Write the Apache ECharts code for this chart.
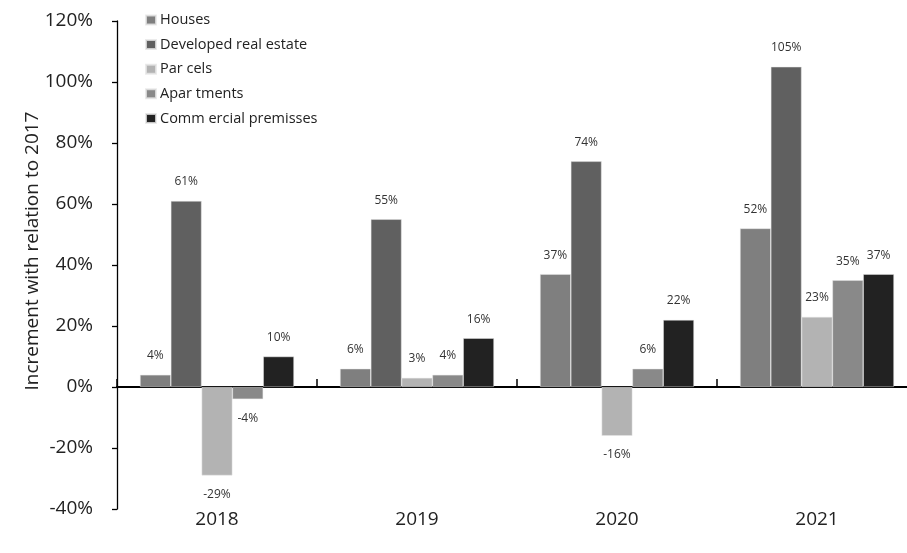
<!DOCTYPE html>
<html>
<head>
<meta charset="utf-8">
<script src="https://cdn.jsdelivr.net/npm/echarts@6/dist/echarts.min.js"></script>
<style>
  html, body { margin: 0; padding: 0; background: #fff; }
  #chart { width: 907px; height: 553px; }
</style>
</head>
<body>
<div id="chart"></div>
<script>
// Categories and series (percent increase relative to 2017)
const years = ['2018', '2019', '2020', '2021'];
const houses = [4, 6, 37, 52];
const developed = [61, 55, 74, 105];
const parcels = [-29, 3, -16, 23];
const apartments = [-4, 4, 6, 35];
const commercial = [10, 16, 22, 37];
const yTicks = [-40, -20, 0, 20, 40, 60, 80, 100, 120];

const seriesDefs = [
  { name: 'Houses', data: houses, color: '#7f7f7f' },
  { name: 'Developed real estate', data: developed, color: '#606060' },
  { name: 'Par cels', data: parcels, color: '#b3b3b3' },
  { name: 'Apar tments', data: apartments, color: '#898989' },
  { name: 'Comm ercial premisses', data: commercial, color: '#222222' }
];

const font = '"Open Sans", "Noto Sans", sans-serif';

const chart = echarts.init(document.getElementById('chart'), null, { renderer: 'canvas' });

chart.setOption({
  animation: false,
  backgroundColor: '#fff',
  textStyle: { fontFamily: font },
  grid: { left: 117, right: -10, top: 21, bottom: 44, containLabel: false, outerBoundsMode: 'none' },
  legend: {
    orient: 'vertical',
    left: 145,
    top: 11,
    padding: 0,
    itemWidth: 10,
    itemHeight: 9,
    itemGap: 6.6,
    icon: 'rect',
    textStyle: { fontSize: 14.5, color: '#222', fontFamily: font, lineHeight: 18, padding: [0, 0, 0, -1] },
    data: seriesDefs.map(s => s.name)
  },
  xAxis: {
    type: 'category',
    data: years,
    boundaryGap: true,
    axisLine: { onZero: true, lineStyle: { color: '#000', width: 2 } },
    axisTick: { show: true, inside: true, length: 8, alignWithLabel: false, lineStyle: { color: '#000', width: 1.5 } },
    axisLabel: { margin: 1, fontSize: 19, color: '#222', fontFamily: font },
    splitLine: { show: false }
  },
  yAxis: {
    type: 'value',
    min: -40,
    max: 120,
    interval: 20,
    axisLine: { show: true, lineStyle: { color: '#000', width: 1.3 } },
    axisTick: { show: true, length: 5, lineStyle: { color: '#000', width: 1.3 } },
    axisLabel: {
      margin: 24,
      fontSize: 19,
      color: '#222',
      fontFamily: font,
      formatter: v => (yTicks.includes(v) ? v + '%' : '')
    },
    splitLine: { show: false }
  },
  graphic: [{
    type: 'text',
    x: 33,
    y: 251,
    rotation: Math.PI / 2,
    style: {
      text: 'Increment with relation to 2017',
      font: '19px ' + font,
      fill: '#222',
      textAlign: 'center',
      textVerticalAlign: 'middle'
    }
  }],
  series: seriesDefs.map(s => ({
    name: s.name,
    type: 'bar',
    data: s.data,
    barGap: '0%',
    barCategoryGap: '23%',
    itemStyle: { color: s.color, borderColor: 'rgba(230,230,230,0.8)', borderWidth: 0.6 },
    label: {
      show: true,
      position: 'outside',
      distance: 13,
      fontSize: 12,
      color: '#333',
      fontFamily: font,
      formatter: p => p.value + '%'
    }
  }))
});
</script>
</body>
</html>
